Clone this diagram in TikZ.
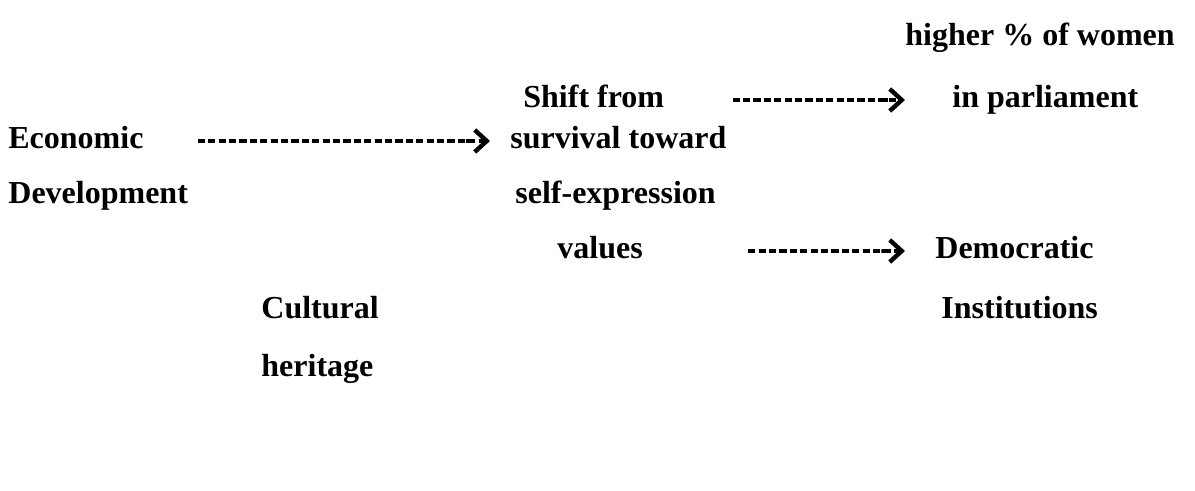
\documentclass[tikz,border=0pt]{standalone}
\usepackage{fontspec}
\setmainfont{Liberation Serif}
\usetikzlibrary{arrows.meta}
\tikzset{every node/.style={font=\fontsize{16}{19}\selectfont\bfseries,
  inner sep=0pt, anchor=base west, text height=10pt, text depth=2pt}}
\tikzset{dasharrow/.style={line width=1.7pt, dash pattern=on 3.6pt off 1.6pt,
  -{Rectangle[length=5pt, width=1.7pt, sep=-1pt]Straight Barb[length=6pt, width=11pt, line width=2.2pt]}}}

\begin{document}
\begin{tikzpicture}[x=0.5pt, y=-0.5pt]

  % Page frame.
  \useasboundingbox (0,0) rectangle (1195,491);

  % Left column.
  \node (econ)  at (8,149) {Economic};
  \node (devel) at (8,204) {Development};
  \node (cult)  at (261,319) {Cultural};
  \node (herit) at (261,377) {heritage};

  % Middle column.
  \node (shift)    at (523,108) {Shift from};
  \node (survival) at (510,149) {survival toward};
  \node (selfexp)  at (515,204) {self-expression};
  \node (values)   at (557,259) {values};

  % Right column.
  \node (women)  at (905,46)  {higher \% of women};
  \node (parl)   at (952,108) {in parliament};
  \node (democ)  at (935,259) {Democratic};
  \node (instit) at (941,319) {Institutions};

  % Arrows.
  \draw[dasharrow, shorten <=27pt, shorten >=10pt] (econ.east) -- (survival.west);
  \draw[dasharrow, shorten <=34pt, shorten >=23.5pt] (shift.east) -- (parl.west);
  \draw[dasharrow, shorten <=52.5pt, shorten >=15pt] (values.east) -- (democ.west);

\end{tikzpicture}
\end{document}
